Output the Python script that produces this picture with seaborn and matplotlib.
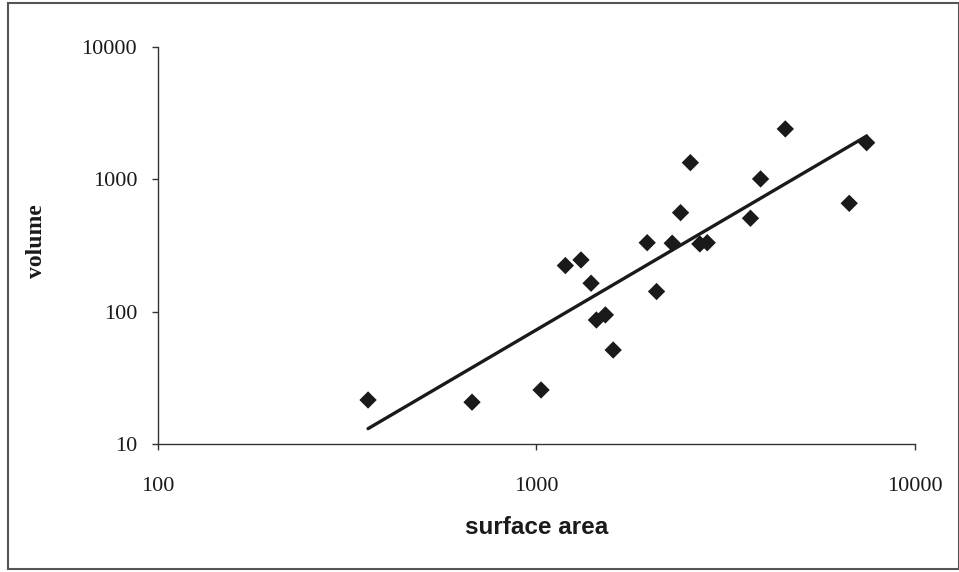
import numpy as np
import pandas as pd
import seaborn as sns
import matplotlib.pyplot as plt
from matplotlib.patches import Rectangle

# values (log-log scatter)
surface_area = [359, 676, 1029, 1193, 1312, 1395, 1441, 1522, 1596,
                1963, 2078, 2286, 2405, 2553, 2704, 2829, 3681, 3914,
                4550, 6714, 7464]
volume = [21.5, 20.7, 25.6, 223, 246, 164, 86.5, 94.5, 51.3,
          332, 142, 329, 560, 1337, 325, 332, 508, 1007,
          2404, 659, 1892]
x_ticks = [100, 1000, 10000]
y_ticks = [10, 100, 1000, 10000]

df = pd.DataFrame({'surface area': surface_area, 'volume': volume})

# power trend line (fit in log space)
slope, icpt = np.polyfit(np.log10(df['surface area']), np.log10(df['volume']), 1)
fit_x = np.array([min(surface_area), max(surface_area)])
fit = pd.DataFrame({'x': fit_x, 'y': 10 ** (icpt + slope * np.log10(fit_x))})

sns.set_style('white')
plt.rcParams['font.family'] = ['Liberation Serif', 'DejaVu Serif']

fig = plt.figure(figsize=(9.59, 5.72), dpi=100)
ax = fig.add_axes([0.1648, 0.2238, 0.789, 0.694])

sns.scatterplot(data=df, x='surface area', y='volume', ax=ax, marker='D',
                s=78, color='#1a1a1a', edgecolor='none', zorder=3)
sns.lineplot(data=fit, x='x', y='y', ax=ax, color='#1a1a1a', linewidth=2.4,
             zorder=2)

ax.set_xscale('log')
ax.set_yscale('log')
ax.set_xlim(100, 10000)
ax.set_ylim(10, 10000)
ax.set_xticks(x_ticks)
ax.set_xticklabels([str(v) for v in x_ticks])
ax.set_yticks(y_ticks)
ax.set_yticklabels([str(v) for v in y_ticks])
ax.minorticks_off()

for side in ['top', 'right']:
    ax.spines[side].set_visible(False)
for side in ['left', 'bottom']:
    ax.spines[side].set_color('#333333')
    ax.spines[side].set_linewidth(1.0)

ax.tick_params(axis='y', which='major', direction='out', length=4, width=1,
               color='#333333', pad=11, labelsize=16, left=True,
               labelcolor='#1a1a1a')
ax.tick_params(axis='x', which='major', direction='out', length=4, width=1,
               color='#333333', pad=20, labelsize=16, bottom=True,
               labelcolor='#1a1a1a')

ax.set_xlabel('surface area', family='Liberation Sans', fontweight='bold',
              fontsize=17.5, color='#1a1a1a')
ax.xaxis.set_label_coords(0.5, -0.182)
ax.set_ylabel('volume', fontweight='bold', fontsize=17, color='#1a1a1a')
ax.yaxis.set_label_coords(-0.1466, 0.511)

# outer frame around the whole chart
fig.patches.append(Rectangle((8 / 959, 0.006), 1 - 8 / 959, 0.988,
                             transform=fig.transFigure, fill=False,
                             edgecolor='#555555', linewidth=1.5))

fig.savefig('out.png', dpi=100)
